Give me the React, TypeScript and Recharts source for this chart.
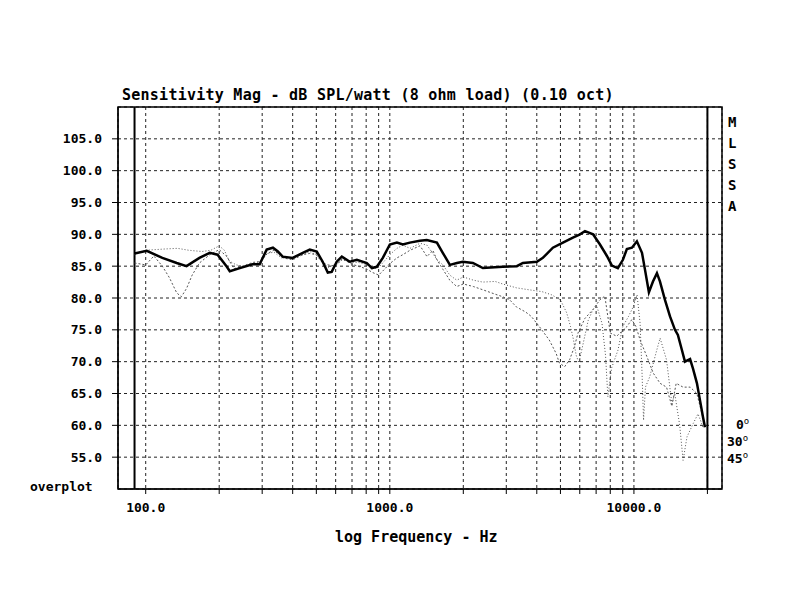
import { LineChart, Line, XAxis, YAxis, CartesianGrid, ReferenceLine, ReferenceArea } from 'recharts';

// [frequency Hz, dB SPL]
const curve0: [number, number][] = [
  [90, 87.0], [101, 87.4], [117, 86.3], [134, 85.5], [147, 85.0], [166, 86.3], [183, 87.1], [197, 86.8],
  [215, 84.9], [221, 84.2], [243, 84.7], [274, 85.3], [293, 85.3], [313, 87.6], [332, 87.9], [348, 87.3],
  [364, 86.5], [400, 86.3], [440, 87.1], [470, 87.6], [502, 87.3], [531, 85.7], [557, 84.0], [578, 84.1],
  [606, 85.7], [636, 86.5], [686, 85.7], [733, 86.0], [805, 85.5], [844, 84.7], [885, 84.9], [936, 86.3],
  [1000, 88.4], [1069, 88.7], [1131, 88.4], [1208, 88.7], [1327, 89.0], [1418, 89.1], [1559, 88.7], [1648, 87.1],
  [1762, 85.2], [1883, 85.5], [1991, 85.7], [2189, 85.5], [2405, 84.7], [2904, 84.9], [3313, 85.0], [3508, 85.5],
  [4003, 85.7], [4236, 86.3], [4656, 87.9], [5119, 88.7], [5624, 89.5], [5951, 89.9], [6300, 90.5], [6800, 90.0],
  [7259, 88.4], [7750, 86.6], [8125, 85.1], [8593, 84.7], [9013, 86.0], [9355, 87.7], [9814, 87.9], [10283, 88.9],
  [10790, 87.1], [11094, 84.5], [11518, 80.9], [11967, 82.6], [12422, 83.9], [12780, 82.6], [13401, 79.7], [14054, 77.1],
  [14728, 75.0], [15138, 74.2], [15732, 71.8], [16180, 70.0], [16982, 70.4], [17458, 68.9], [18121, 66.6], [18635, 64.0],
  [19179, 61.3], [19545, 59.7],
];

const curve30: [number, number][] = [
  [90, 86.8], [100, 87.5], [110, 87.6], [120, 87.7], [135, 87.8], [150, 87.5], [170, 87.3], [185, 87.5],
  [200, 88.2], [210, 87.5], [220, 85.8], [235, 85.2], [250, 85.0], [275, 85.4], [295, 85.8], [315, 87.0],
  [335, 87.2], [360, 86.3], [400, 86.4], [440, 86.8], [470, 87.3], [500, 86.8], [530, 85.6], [560, 84.8],
  [600, 85.3], [640, 86.0], [690, 85.6], [740, 85.6], [800, 85.3], [850, 84.6], [900, 84.8], [950, 85.8],
  [1000, 86.8], [1070, 87.8], [1130, 88.3], [1210, 87.8], [1330, 88.6], [1420, 88.3], [1500, 87.0], [1560, 86.0],
  [1650, 85.2], [1760, 83.6], [1880, 82.8], [2000, 83.3], [2200, 82.8], [2400, 82.5], [2700, 82.6], [2900, 82.2],
  [3300, 81.6], [3700, 81.3], [4200, 81.0], [4600, 80.5], [5000, 79.7], [5300, 77.7], [5500, 75.5], [5650, 73.5],
  [5800, 71.0], [5950, 69.8], [6150, 72.3], [6500, 76.5], [6800, 78.2], [7050, 78.7], [7400, 76.0], [7650, 71.0],
  [7820, 64.5], [8100, 69.0], [8600, 71.8], [9000, 75.5], [9500, 77.1], [9900, 78.5], [10300, 80.5], [10600, 76.0],
  [10800, 68.0], [10950, 60.8], [11150, 66.0], [11600, 67.6], [12400, 71.8], [12800, 73.7], [13600, 70.3], [14300, 63.4],
  [14700, 65.0], [15400, 60.0], [15900, 54.5], [16500, 58.2], [17500, 60.3], [18300, 61.8], [19200, 59.7],
];

const curve45: [number, number][] = [
  [90, 85.5], [100, 85.2], [108, 86.6], [117, 85.0], [125, 83.2], [134, 80.8], [140, 80.2], [147, 81.5],
  [155, 83.6], [166, 85.5], [183, 86.8], [200, 87.6], [215, 86.5], [230, 84.6], [250, 85.0], [275, 85.6],
  [295, 85.7], [315, 87.0], [335, 87.5], [365, 86.3], [400, 86.0], [440, 86.8], [470, 87.0], [500, 86.8],
  [530, 85.5], [560, 85.2], [600, 85.0], [640, 86.2], [690, 85.4], [740, 85.0], [800, 84.6], [850, 84.0],
  [900, 83.6], [950, 84.5], [1000, 85.4], [1070, 86.3], [1130, 86.8], [1210, 87.5], [1330, 88.2], [1420, 86.5],
  [1500, 87.5], [1560, 86.0], [1650, 84.5], [1760, 82.8], [1880, 81.8], [2000, 82.2], [2200, 81.8], [2400, 81.3],
  [2700, 80.6], [2900, 80.2], [3100, 79.7], [3300, 78.6], [3600, 77.8], [3800, 77.1], [4100, 75.5], [4500, 73.4],
  [4800, 71.3], [4950, 69.8], [5200, 69.2], [5450, 70.3], [5700, 72.3], [5900, 74.5], [6300, 76.8], [6800, 78.2],
  [7250, 79.7], [7600, 80.3], [8000, 74.5], [8500, 74.0], [9350, 75.5], [9800, 76.6], [10200, 75.5], [10600, 73.4],
  [11300, 70.8], [12000, 68.2], [12800, 66.6], [13600, 66.0], [14300, 63.0], [14900, 66.6], [15900, 66.0], [17000, 66.0],
  [18100, 65.0], [19000, 61.8], [19500, 60.0],
];

const freqTicks = [
  100, 200, 300, 400, 500, 600, 700, 800, 900,
  1000, 2000, 3000, 4000, 5000, 6000, 7000, 8000, 9000,
  10000, 20000,
];
const freqLabels = [100, 1000, 10000];
const splTicks = [55, 60, 65, 70, 75, 80, 85, 90, 95, 100, 105];
const badge = ['M', 'L', 'S', 'S', 'A'];
const angles = ['0', '30', '45'];

const F_MIN = 77;
const F_MAX = 22950;
const DB_MIN = 50;
const DB_MAX = 110;

const mono = '"DejaVu Sans Mono", "Liberation Mono", monospace';

const toRows = (c: [number, number][]) => c.map(([f, db]) => ({ f, db }));

const txt = (extra: React.CSSProperties): React.CSSProperties => ({
  position: 'absolute',
  fontFamily: mono,
  fontWeight: 'bold',
  color: '#000',
  whiteSpace: 'nowrap',
  ...extra,
});

export default function App() {
  return (
    <div style={{ position: 'absolute', left: 0, top: 0, width: 800, height: 600, background: '#fff' }}>
      <LineChart width={800} height={600} margin={{ top: 107, right: 78, left: 0, bottom: 0 }}>
        <CartesianGrid stroke="#222" strokeDasharray="3 3" strokeWidth={1} />
        <XAxis
          dataKey="f"
          type="number"
          scale="log"
          domain={[F_MIN, F_MAX]}
          allowDataOverflow
          ticks={freqTicks}
          tickFormatter={(v: number) => (freqLabels.includes(v) ? v.toFixed(1) : '')}
          tick={{ fontFamily: mono, fontWeight: 'bold', fontSize: 13, fill: '#000' }}
          tickSize={5}
          tickMargin={9}
          height={111}
          stroke="#000"
          interval={0}
        />
        <YAxis
          type="number"
          domain={[DB_MIN, DB_MAX]}
          ticks={splTicks}
          tickFormatter={(v: number) => v.toFixed(1)}
          tick={{ fontFamily: mono, fontWeight: 'bold', fontSize: 13, fill: '#000' }}
          tickSize={6}
          tickMargin={10}
          width={118}
          stroke="#000"
          interval={0}
        />
        <ReferenceArea x1={F_MIN} x2={F_MAX} y1={DB_MIN} y2={DB_MAX} fill="none" stroke="#000" strokeWidth={1.5} />
        <ReferenceLine x={90} stroke="#000" strokeWidth={2} />
        <ReferenceLine x={20000} stroke="#000" strokeWidth={2} />
        <Line data={toRows(curve45)} dataKey="db" stroke="#555" strokeWidth={1} strokeDasharray="2 2" dot={false} isAnimationActive={false} />
        <Line data={toRows(curve30)} dataKey="db" stroke="#555" strokeWidth={1} strokeDasharray="1 2" dot={false} isAnimationActive={false} />
        <Line data={toRows(curve0)} dataKey="db" stroke="#000" strokeWidth={2.5} dot={false} isAnimationActive={false} />
      </LineChart>

      <div style={txt({ left: 122, top: 86, fontSize: 15, letterSpacing: 0.25 })}>
        Sensitivity Mag - dB SPL/watt (8 ohm load) (0.10 oct)
      </div>
      <div style={txt({ left: 30, top: 479, fontSize: 13 })}>overplot</div>
      <div style={txt({ left: 335, top: 528, fontSize: 15 })}>log Frequency - Hz</div>
      {badge.map((ch, i) => (
        <div key={i} style={txt({ left: 728, top: 114 + i * 21, fontSize: 14 })}>{ch}</div>
      ))}
      {angles.map((a, i) => (
        <div key={a} style={txt({ left: a === '0' ? 736 : 727, top: 416 + i * 17, fontSize: 13 })}>
          {a}<span style={{ fontSize: 9, verticalAlign: 'super', fontWeight: 'normal' }}>o</span>
        </div>
      ))}
    </div>
  );
}
